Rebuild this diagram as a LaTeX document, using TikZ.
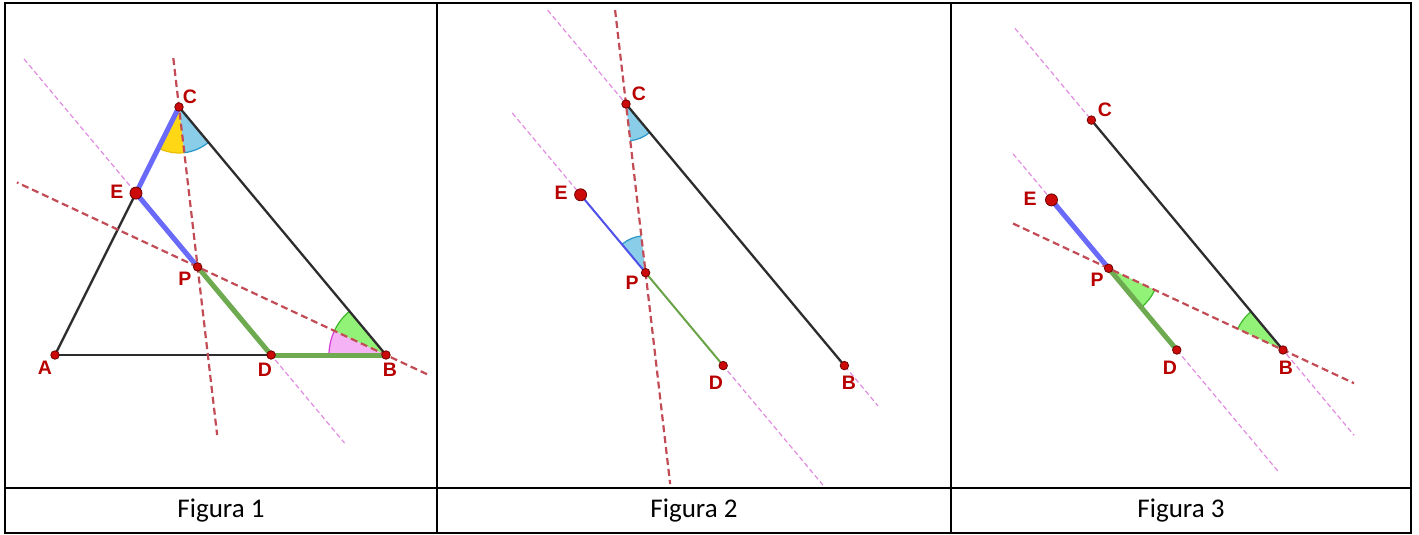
\documentclass[tikz,border=0pt]{standalone}
\usepackage{fontspec}
\setmainfont{Carlito}
\newfontfamily\lblfont{Liberation Sans}
\usetikzlibrary{calc,angles}
\definecolor{segblack}{RGB}{45,45,45}
\definecolor{segblue}{RGB}{105,105,250}
\definecolor{segblueth}{RGB}{80,80,235}
\definecolor{seggreen}{RGB}{110,170,80}
\definecolor{seggreenth}{RGB}{105,165,70}
\definecolor{ptred}{RGB}{205,10,10}
\definecolor{ptdark}{RGB}{110,0,0}
\definecolor{lblred}{RGB}{185,0,0}
\definecolor{dashred}{RGB}{195,75,85}
\definecolor{dashpink}{RGB}{225,140,225}
\definecolor{yelfill}{RGB}{255,215,20}
\definecolor{yelarc}{RGB}{235,190,0}
\definecolor{bluefill}{RGB}{125,200,230}
\definecolor{bluearc}{RGB}{40,150,200}
\definecolor{grnfill}{RGB}{135,240,105}
\definecolor{grnarc}{RGB}{60,185,40}
\definecolor{pinkfill}{RGB}{245,170,245}
\definecolor{pinkarc}{RGB}{215,60,215}
\tikzset{
  seg/.style={draw=segblack,line width=2.3pt,line cap=round},
  bluethick/.style={draw=segblue,line width=5pt,line cap=round},
  greenthick/.style={draw=seggreen,line width=5pt,line cap=round},
  bluethin/.style={draw=segblueth,line width=2pt,line cap=round},
  greenthin/.style={draw=seggreenth,line width=2pt,line cap=round},
  reddash/.style={draw=dashred,line width=2.2pt,dash pattern=on 7pt off 4pt},
  pinkdash/.style={draw=dashpink,line width=1.2pt,dash pattern=on 5pt off 3pt},
  ptmark/.style={circle,fill=ptred,draw=ptdark,line width=0.8pt,inner sep=0pt,minimum size=8.5pt},
  bigmark/.style={ptmark,minimum size=12pt},
  lbl/.style={text=lblred,font=\lblfont\bfseries\fontsize{19.5}{19.5}\selectfont,inner sep=0pt},
  capt/.style={font=\fontsize{27}{30}\selectfont,inner sep=0pt},
  frame/.style={draw=black,line width=2pt},
  wyel/.style={draw=yelarc,fill=yelfill,line width=1.2pt},
  wblue/.style={draw=bluearc,fill=bluefill,line width=1.2pt,fill opacity=0.9},
  wgrn/.style={draw=grnarc,fill=grnfill,line width=1.2pt,fill opacity=0.9},
  wpink/.style={draw=pinkarc,fill=pinkfill,line width=1.2pt,fill opacity=0.9},
}
\begin{document}
\begin{tikzpicture}[x=1pt,y=1pt]
\useasboundingbox (0,0) rectangle (1419,-535);
\fill[white] (0,0) rectangle (1419,-535);

% ---------- table frame ----------
\coordinate (TL) at (5,-3);
\coordinate (BR) at (1411,-533);
\coordinate (V1t) at (437,-3);
\coordinate (V1b) at (437,-533);
\coordinate (V2t) at (951,-3);
\coordinate (V2b) at (951,-533);
\coordinate (Hl) at (5,-488);
\coordinate (Hr) at (1411,-488);
\draw[frame] (TL) rectangle (BR);
\draw[frame] (V1t) -- (V1b);
\draw[frame] (V2t) -- (V2b);
\draw[frame] (Hl) -- (Hr);
\node[capt] (cap1) at (221,-511) {Figura 1};
\node[capt] (cap2) at (694,-511) {Figura 2};
\node[capt] (cap3) at (1181,-511) {Figura 3};

% ---------- Figura 1 ----------
\coordinate (A1) at (55,-355);
\coordinate (B1) at (386,-355);
\coordinate (C1) at (179,-107);
\coordinate (P1) at (197.6,-266.9);
\coordinate (D1) at (271.1,-355);
\coordinate (E1) at (136,-193.1);
\coordinate (c1s) at ($(C1)!-0.306!(P1)$);
\coordinate (c1e) at ($(C1)!2.051!(P1)$);
\coordinate (b1s) at ($(B1)!-0.2176!(P1)$);
\coordinate (b1e) at ($(B1)!1.959!(P1)$);
\coordinate (p1s) at ($(E1)!-0.829!(D1)$);
\coordinate (p1e) at ($(E1)!1.544!(D1)$);

\draw[pinkdash] (p1s) -- (p1e);
\pic[wyel,angle radius=46pt] {angle=A1--C1--P1};
\pic[wblue,angle radius=46pt] {angle=P1--C1--B1};
\pic[wpink,angle radius=57pt] {angle=P1--B1--A1};
\pic[wgrn,angle radius=57pt] {angle=C1--B1--P1};
\draw[seg] (A1) -- (B1);
\draw[seg] (A1) -- (C1);
\draw[seg] (C1) -- (B1);
\draw[bluethick] (C1) -- (E1);
\draw[bluethick] (E1) -- (P1);
\draw[greenthick] (P1) -- (D1);
\draw[greenthick] (D1) -- (B1);
\draw[reddash] (c1s) -- (c1e);
\draw[reddash] (b1s) -- (b1e);
\node[ptmark] (mA1) at (A1) {};
\node[ptmark] (mB1) at (B1) {};
\node[ptmark] (mC1) at (C1) {};
\node[ptmark] (mP1) at (P1) {};
\node[ptmark] (mD1) at (D1) {};
\node[bigmark] (mE1) at (E1) {};
\node[lbl] (lA1) at (45,-368) {A};
\node[lbl] (lB1) at (390,-370) {B};
\node[lbl] (lC1) at (190,-97) {C};
\node[lbl] (lD1) at (265,-370) {D};
\node[lbl] (lE1) at (117,-192) {E};
\node[lbl] (lP1) at (185,-279) {P};

% ---------- Figura 2 ----------
\coordinate (C2) at (626,-104);
\coordinate (E2) at (580.6,-194.8);
\coordinate (P2) at (645.6,-272.7);
\coordinate (D2) at (723.2,-365.6);
\coordinate (B2) at (844.4,-365.6);
\coordinate (c2s) at ($(C2)!-0.557!(P2)$);
\coordinate (c2e) at ($(C2)!2.253!(P2)$);
\coordinate (q2s) at ($(C2)!-0.359!(B2)$);
\coordinate (q2e) at ($(C2)!1.154!(B2)$);
\coordinate (p2s) at ($(E2)!-0.479!(D2)$);
\coordinate (p2e) at ($(E2)!1.699!(D2)$);

\draw[pinkdash] (q2s) -- (q2e);
\draw[pinkdash] (p2s) -- (p2e);
\pic[wblue,angle radius=37pt] {angle=P2--C2--B2};
\pic[wblue,angle radius=37pt] {angle=C2--P2--E2};
\draw[seg] (C2) -- (B2);
\draw[bluethin] (E2) -- (P2);
\draw[greenthin] (P2) -- (D2);
\draw[reddash] (c2s) -- (c2e);
\node[ptmark] (mC2) at (C2) {};
\node[ptmark] (mP2) at (P2) {};
\node[ptmark] (mD2) at (D2) {};
\node[ptmark] (mB2) at (B2) {};
\node[bigmark] (mE2) at (E2) {};
\node[lbl] (lC2) at (639,-94) {C};
\node[lbl] (lE2) at (561,-193) {E};
\node[lbl] (lP2) at (632,-283) {P};
\node[lbl] (lD2) at (716,-383) {D};
\node[lbl] (lB2) at (849,-383) {B};

% ---------- Figura 3 ----------
\coordinate (C3) at (1091.4,-120.1);
\coordinate (E3) at (1051.5,-199.9);
\coordinate (P3) at (1108.6,-268.3);
\coordinate (D3) at (1176.8,-350);
\coordinate (B3) at (1283,-350);
\coordinate (q3s) at ($(C3)!-0.399!(B3)$);
\coordinate (q3e) at ($(C3)!1.371!(B3)$);
\coordinate (p3s) at ($(E3)!-0.307!(D3)$);
\coordinate (p3e) at ($(E3)!1.808!(D3)$);
\coordinate (r3s) at ($(P3)!-0.548!(B3)$);
\coordinate (r3e) at ($(P3)!1.407!(B3)$);

\draw[pinkdash] (q3s) -- (q3e);
\draw[pinkdash] (p3s) -- (p3e);
\pic[wgrn,angle radius=51pt] {angle=D3--P3--B3};
\pic[wgrn,angle radius=50pt] {angle=C3--B3--P3};
\draw[seg] (C3) -- (B3);
\draw[bluethick] (E3) -- (P3);
\draw[greenthick] (P3) -- (D3);
\draw[reddash] (r3s) -- (r3e);
\node[ptmark] (mC3) at (C3) {};
\node[ptmark] (mP3) at (P3) {};
\node[ptmark] (mD3) at (D3) {};
\node[ptmark] (mB3) at (B3) {};
\node[bigmark] (mE3) at (E3) {};
\node[lbl] (lC3) at (1105,-110) {C};
\node[lbl] (lE3) at (1030,-199) {E};
\node[lbl] (lP3) at (1097,-280) {P};
\node[lbl] (lD3) at (1170,-368) {D};
\node[lbl] (lB3) at (1286,-368) {B};
\end{tikzpicture}
\end{document}
